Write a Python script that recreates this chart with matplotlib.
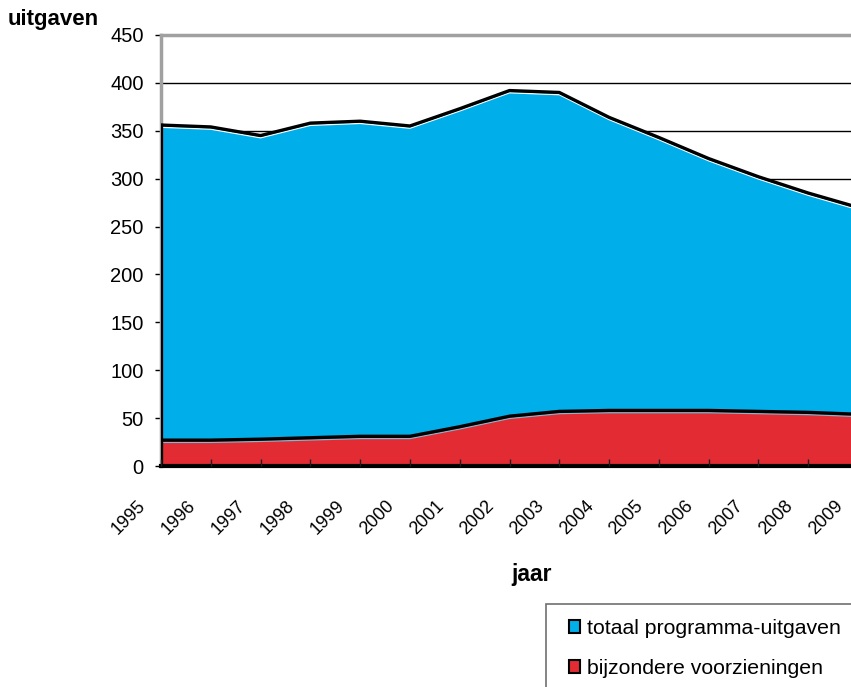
import matplotlib
matplotlib.use("Agg")
import matplotlib.pyplot as plt
from matplotlib.patches import Patch, Rectangle
from matplotlib.transforms import ScaledTranslation

plt.rcParams['font.family'] = ['Liberation Sans', 'DejaVu Sans']

years = [1995, 1996, 1997, 1998, 1999, 2000, 2001, 2002, 2003, 2004, 2005, 2006, 2007, 2008, 2009]
totaal = [356, 354, 345, 358, 360, 355, 373, 392, 390, 364, 343, 321, 302, 285, 270]
bijzondere = [27, 27, 28, 29.5, 31, 31, 41, 52, 57, 58, 58, 58, 57, 56, 54]
yticks = [0, 50, 100, 150, 200, 250, 300, 350, 400, 450]

W, H = 851, 687
fig = plt.figure(figsize=(W / 100, H / 100), dpi=100)
left, right, bottom, top = 161, 858, 466, 35
ax = fig.add_axes([left / W, 1 - bottom / H, (right - left) / W, (bottom - top) / H])

blue = '#00AEEA'
red = '#E32B33'
x = list(range(len(years)))

shadow = ax.transData + ScaledTranslation(0, -2.2 / 100, fig.dpi_scale_trans)
ax.fill_between(x, 0, totaal, color=blue, zorder=2, linewidth=0)
ax.plot(x, totaal, color='white', lw=1, zorder=3.5, transform=shadow)
ax.plot(x, totaal, color='black', lw=2.4, zorder=4, solid_joinstyle='round')
ax.fill_between(x, 0, bijzondere, color=red, zorder=3, linewidth=0)
ax.plot(x, bijzondere, color='#7fb8d0', lw=1, zorder=3.5, transform=shadow)
ax.plot(x, bijzondere, color='black', lw=2.4, zorder=4, solid_joinstyle='round')
ax.plot([0, 0], [0, totaal[0]], color='black', lw=2.4, zorder=4)

ax.set_xlim(0, len(years) - 1)
ax.set_ylim(0, 450)
ax.set_yticks(yticks)
ax.set_yticklabels([str(v) for v in yticks], fontsize=14.5)
ax.yaxis.grid(True, color='black', lw=1)
ax.set_axisbelow(True)
ax.xaxis.set_zorder(5)

ax.set_xticks(x)
ax.set_xticklabels([])
lab_tr = ax.get_xaxis_transform() + ScaledTranslation(-18 / 100, -37 / 100, fig.dpi_scale_trans)
for xi, yr in zip(x, years):
    ax.text(xi, 0, str(yr), transform=lab_tr, rotation=45, ha='right', va='center',
            rotation_mode='anchor', fontsize=13, clip_on=False)

ax.tick_params(axis='x', direction='in', length=5, width=1, color='#202020')
ax.tick_params(axis='y', direction='out', length=4.5, width=1, color='black', pad=8)

for s in ['left', 'top', 'right']:
    ax.spines[s].set_color('#A0A0A0')
    ax.spines[s].set_linewidth(2.5)
ax.spines['bottom'].set_color('black')
ax.spines['bottom'].set_linewidth(3)
ax.spines['bottom'].set_zorder(5)

fig.text(8 / W, 1 - 20 / H, 'uitgaven', fontsize=16, fontweight='bold', ha='left', va='center')
fig.text(532 / W, 1 - 574 / H, 'jaar', fontsize=16.5, fontweight='bold', ha='center', va='center')

# legend frame (extends past the figure edge, as in the reference)
fig.patches.append(Rectangle((546 / W, -0.05), 330 / W, 0.05 + 1 - 604 / H,
                             transform=fig.transFigure, facecolor='white',
                             edgecolor='#707070', lw=1.2, zorder=0))

handles = [Patch(facecolor=blue, edgecolor='black', lw=1.5),
           Patch(facecolor=red, edgecolor='black', lw=1.5)]
leg = fig.legend(handles, ['totaal programma-uitgaven', 'bijzondere voorzieningen'],
                 loc='upper left', bbox_to_anchor=(569 / W, 1 - 619 / H),
                 fontsize=15.3, frameon=False, handlelength=0.5, handleheight=0.5,
                 handletextpad=0.36, labelspacing=0.99, borderpad=0, borderaxespad=0)

fig.savefig('out.png', dpi=100)
